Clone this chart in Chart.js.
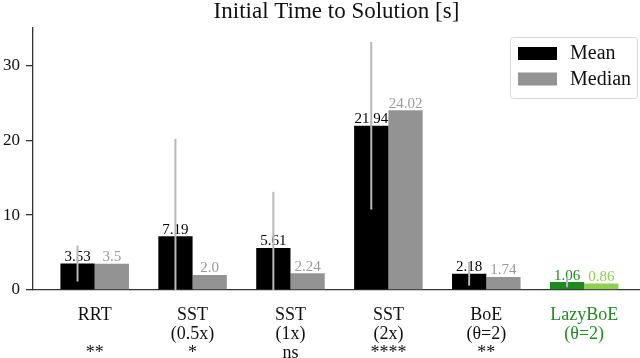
<!DOCTYPE html>
<html>
<head>
<meta charset="utf-8">
<script src="https://cdn.jsdelivr.net/npm/chart.js@4.4.0/dist/chart.umd.min.js"></script>
<style>
  html, body { margin: 0; padding: 0; background: #fff; }
  #wrap { width: 640px; height: 358px; }
</style>
</head>
<body>
<div id="wrap"><canvas id="chart"></canvas></div>
<script>
// Data
const methods = [
    ['RRT', '', '**'],
    ['SST', '(0.5x)', '*'],
    ['SST', '(1x)', 'ns'],
    ['SST', '(2x)', '****'],
    ['BoE', '(θ=2)', '**'],
    ['LazyBoE', '(θ=2)']
];
const meanValues = [3.53, 7.19, 5.61, 21.94, 2.18, 1.06];
const medianValues = [3.5, 2.0, 2.24, 24.02, 1.74, 0.86];
const meanErrors = [2.4, 13.0, 7.5, 11.2, 1.6, 0.7];
const yTicks = [0, 10, 20, 30];

// Styles
const FONT = "'Liberation Serif', 'DejaVu Serif', serif";
const HIGHLIGHT = 5; // LazyBoE
const colors = {
    mean: '#000000',
    median: '#939393',
    medianText: '#9a9a9a',
    lazyMean: '#1f8a1f',
    lazyMedian: '#8fd14f',
    lazyLabel: '#228b22',
    errorBar: '#b8b8b8',
    axis: '#333333'
};

// Format like python str(float)
const fmt = (v) => Number.isInteger(v) ? v.toFixed(1) : String(v);

// Value labels above bars
const valueLabels = {
    id: 'valueLabels',
    afterDatasetsDraw(chart) {
        const ctx = chart.ctx;
        ctx.save();
        ctx.font = `15px ${FONT}`;
        ctx.textAlign = 'center';
        ctx.textBaseline = 'bottom';
        chart.data.datasets.forEach((ds, di) => {
            const meta = chart.getDatasetMeta(di);
            meta.data.forEach((bar, i) => {
                ctx.fillStyle = ds.textColor(i);
                ctx.fillText(fmt(ds.data[i].y), bar.x, bar.y + 1);
            });
        });
        ctx.restore();
    }
};

// Error bars on the mean bars
const errorBars = {
    id: 'errorBars',
    afterDatasetsDraw(chart) {
        const ctx = chart.ctx;
        const area = chart.chartArea;
        const yScale = chart.scales.y;
        const meta = chart.getDatasetMeta(0);
        ctx.save();
        ctx.beginPath();
        ctx.rect(area.left, area.top, area.right - area.left, area.bottom - area.top);
        ctx.clip();
        ctx.strokeStyle = colors.errorBar;
        ctx.lineWidth = 2;
        meta.data.forEach((bar, i) => {
            const top = yScale.getPixelForValue(meanValues[i] + meanErrors[i]);
            const bottom = yScale.getPixelForValue(meanValues[i] - meanErrors[i]);
            ctx.beginPath();
            ctx.moveTo(bar.x, top);
            ctx.lineTo(bar.x, bottom);
            ctx.stroke();
        });
        ctx.restore();
    }
};

// Legend box in the upper right
const boxLegend = {
    id: 'boxLegend',
    afterDraw(chart) {
        const ctx = chart.ctx;
        const x = 510, y = 37, w = 127, h = 61;
        ctx.save();
        ctx.fillStyle = 'rgba(255,255,255,0.8)';
        ctx.strokeStyle = '#d6d6d6';
        ctx.lineWidth = 1;
        ctx.beginPath();
        ctx.roundRect(x + 0.5, y + 0.5, w, h, 3);
        ctx.fill();
        ctx.stroke();
        ctx.font = `20px ${FONT}`;
        ctx.textBaseline = 'middle';
        ctx.textAlign = 'left';
        chart.data.datasets.forEach((ds, i) => {
            const rowY = y + 16 + i * 25.5;
            ctx.fillStyle = ds.legendColor;
            ctx.fillRect(x + 8, rowY - 6, 39, 13);
            ctx.fillStyle = '#111';
            ctx.fillText(ds.label, x + 60, rowY + 1);
        });
        ctx.restore();
    }
};

const toPoints = (values) => values.map((v, i) => ({ x: i, y: v }));

const init = () => {
    const ctx = document.getElementById('chart').getContext('2d');
    new Chart(ctx, {
        type: 'bar',
        data: {
            datasets: [
                {
                    label: 'Mean',
                    data: toPoints(meanValues),
                    backgroundColor: (c) => c.dataIndex === HIGHLIGHT ? colors.lazyMean : colors.mean,
                    legendColor: colors.mean,
                    textColor: (i) => i === HIGHLIGHT ? colors.lazyMean : '#000'
                },
                {
                    label: 'Median',
                    data: toPoints(medianValues),
                    backgroundColor: (c) => c.dataIndex === HIGHLIGHT ? colors.lazyMedian : colors.median,
                    legendColor: colors.median,
                    textColor: (i) => i === HIGHLIGHT ? colors.lazyMedian : colors.medianText
                }
            ]
        },
        options: {
            responsive: true,
            maintainAspectRatio: false,
            animation: false,
            categoryPercentage: 0.7,
            barPercentage: 1.0,
            layout: { padding: { left: 0, right: 0, top: 0, bottom: 0 } },
            plugins: {
                legend: { display: false },
                tooltip: { enabled: false },
                title: {
                    display: true,
                    fullSize: false,
                    text: 'Initial Time to Solution [s]',
                    color: '#111',
                    font: { family: FONT, size: 23, weight: 'normal', lineHeight: 1.0 },
                    padding: { top: 0, bottom: 5 }
                }
            },
            scales: {
                x: {
                    type: 'linear',
                    min: -0.63,
                    max: 5.57,
                    offset: false,
                    afterBuildTicks: (s) => { s.ticks = methods.map((m, i) => ({ value: i })); },
                    afterFit: (s) => { s.height = 68; },
                    grid: { display: false, drawTicks: false },
                    border: { display: true, color: colors.axis, width: 1.3 },
                    ticks: {
                        autoSkip: false,
                        maxRotation: 0,
                        padding: 16,
                        font: { family: FONT, size: 18, lineHeight: 1.05 },
                        color: (c) => c.index === HIGHLIGHT ? colors.lazyLabel : '#111',
                        callback: (v) => methods[v]
                    }
                },
                y: {
                    min: 0,
                    max: 35,
                    afterBuildTicks: (s) => { s.ticks = yTicks.map((v) => ({ value: v })); },
                    afterFit: (s) => { s.width = 33; },
                    grid: { drawOnChartArea: false, drawTicks: true, tickLength: 7, color: colors.axis, lineWidth: 1.3 },
                    border: { display: true, color: colors.axis, width: 1.3 },
                    ticks: {
                        padding: 6,
                        color: '#111',
                        font: { family: FONT, size: 17 }
                    }
                }
            }
        },
        plugins: [valueLabels, errorBars, boxLegend]
    });
};

document.addEventListener('DOMContentLoaded', init);
</script>
</body>
</html>
